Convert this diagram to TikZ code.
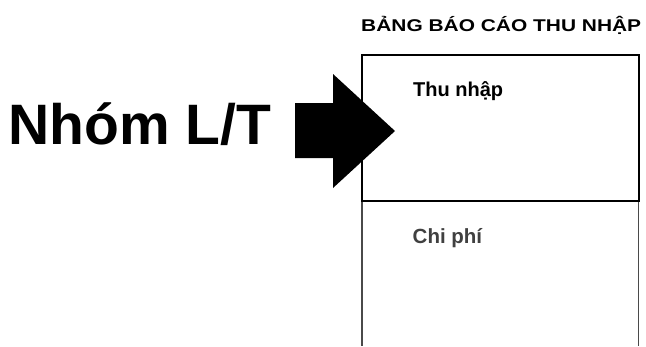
\documentclass[tikz,border=0pt]{standalone}
\usepackage{fontspec}
\setmainfont{Liberation Sans}
\usetikzlibrary{shapes}
\definecolor{sidegray}{HTML}{4A4A4A}
\definecolor{labelgray}{HTML}{404040}
\tikzset{
tieude/.style={font=\fontsize{17}{20}\selectfont\bfseries, inner sep=0pt,
	anchor=base west, xscale=1.23, transform shape},
muc/.style={font=\fontsize{20}{23}\selectfont\bfseries, inner sep=0pt, anchor=base west}
}

\begin{document}
\begin{tikzpicture}[x=1pt, y=-1pt]
	\useasboundingbox (0,0) rectangle (646,346);
	\node[font=\fontsize{57}{60}\selectfont\bfseries, inner sep=0pt, anchor=base west] (nhom) at (8,144) {Nhóm L/T};
	\fill (295,103) -- (333,103) -- (333,74) -- (395,131) -- (333,188) -- (333,158) -- (295,158) -- cycle;
	\draw[sidegray, line width=1.8pt] (362,201) -- (362,346) (638.5,201) -- (638.5,346);
	\draw[line width=2.6pt] (362,55) rectangle (639,201);
	\node[tieude] (bang) at (361,31) {BẢNG BÁO CÁO THU NHẬP};
	\node[muc] (thu) at (413,96) {Thu nhập};
	\node[muc, font=\fontsize{20.5}{23}\selectfont\bfseries, text=labelgray] (chi) at (412.5,243.5) {Chi phí};
\end{tikzpicture}
\end{document}
